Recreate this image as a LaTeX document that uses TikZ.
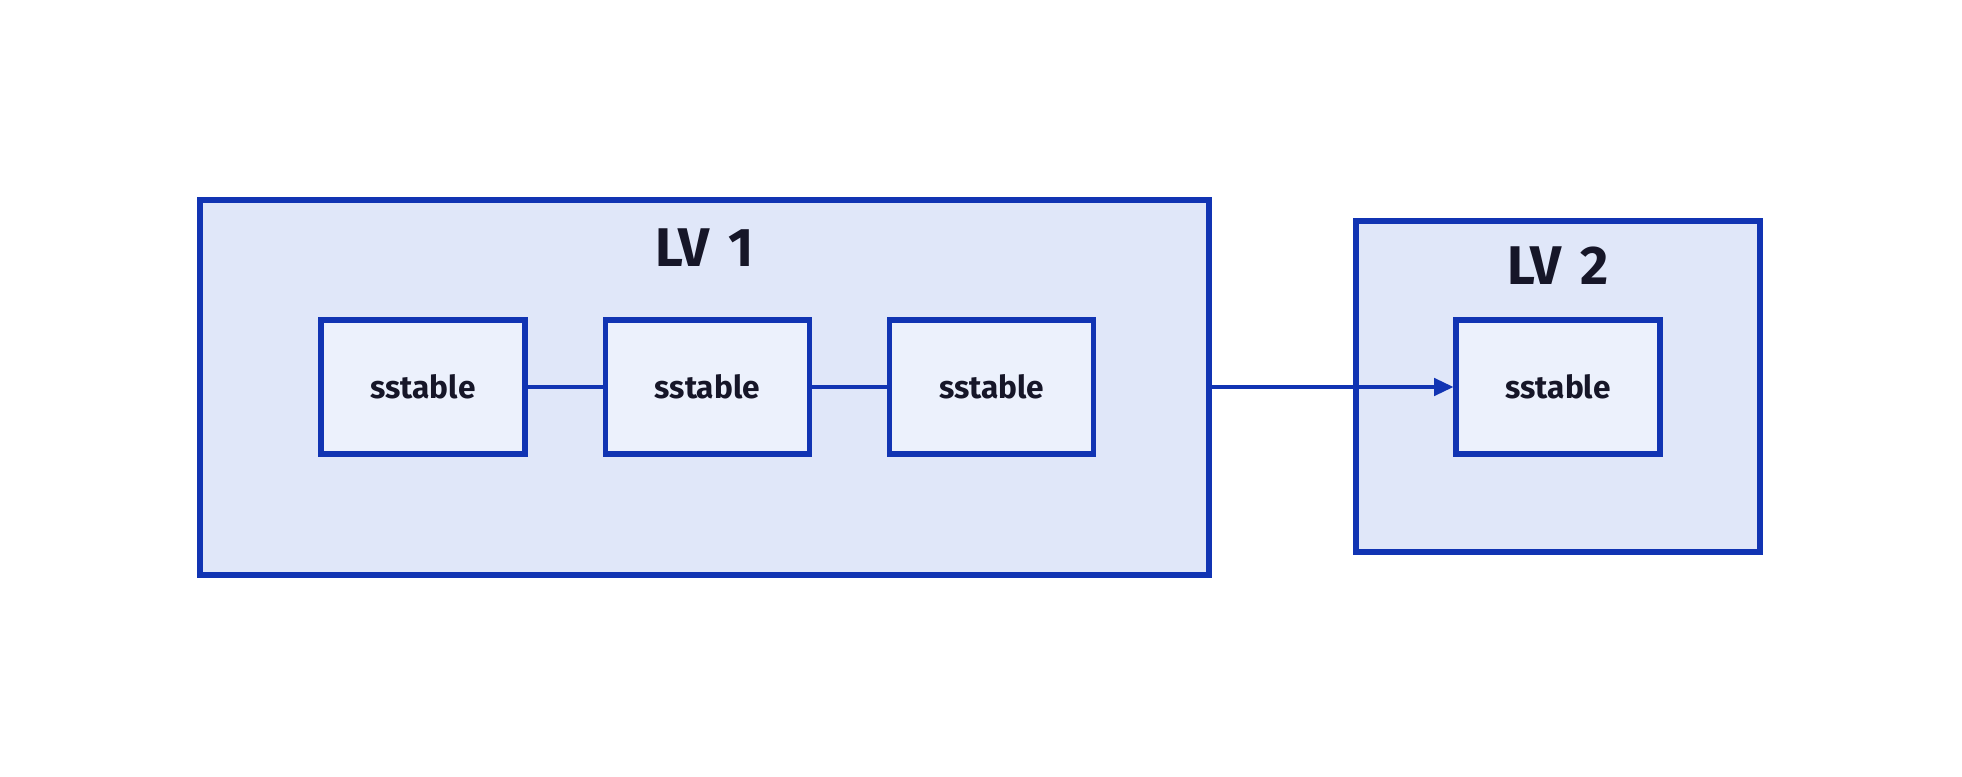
\documentclass[tikz,border=0pt]{standalone}
\usepackage{fontspec}
\setmainfont{Fira Sans}
\usepackage{xcolor}
\usetikzlibrary{arrows.meta, positioning, shapes, calc}
\definecolor{lvblue}{RGB}{17,52,179}
\definecolor{levelfill}{RGB}{224,231,249}
\definecolor{tablefill}{RGB}{236,241,252}
\definecolor{ink}{RGB}{22,22,40}

\begin{document}
\begin{tikzpicture}[node distance=1.5cm]
\useasboundingbox (0,0) rectangle (39.24,15.52);

% Level 1
\node[draw=lvblue, line width=3.2pt, fill=levelfill, minimum width=20.18cm, minimum height=7.5cm] (lv1) at (14.09,7.77) {};
\node[text=ink, font=\fontsize{31}{36}\bfseries, below=0.5cm of lv1.north] (lv1label) {LV\hspace{0.35em}1};

% Level 2
\node[draw=lvblue, line width=3.2pt, fill=levelfill, minimum width=8.08cm, minimum height=6.62cm] (lv2) at (31.16,7.79) {};
\node[text=ink, font=\fontsize{31}{36}\bfseries, below=0.45cm of lv2.north] (lv2label) {LV\hspace{0.35em}2};

% Tables in level 1
\node[draw=lvblue, line width=3pt, fill=tablefill, text=ink, font=\fontsize{18}{22}\bfseries, minimum width=4.08cm, minimum height=2.68cm] (s1) at (8.46,7.78) {sstable};
\node[draw=lvblue, line width=3pt, fill=tablefill, text=ink, font=\fontsize{18}{22}\bfseries, minimum width=4.08cm, minimum height=2.68cm, right=of s1] (s2) {sstable};
\node[draw=lvblue, line width=3pt, fill=tablefill, text=ink, font=\fontsize{18}{22}\bfseries, minimum width=4.08cm, minimum height=2.68cm, right=of s2] (s3) {sstable};

% Table in level 2
\node[draw=lvblue, line width=3pt, fill=tablefill, text=ink, font=\fontsize{18}{22}\bfseries, minimum width=4.08cm, minimum height=2.68cm] (s4) at (31.16,7.78) {sstable};

% Links
\draw[draw=lvblue, line width=1.8pt] (s1) -- (s2);
\draw[draw=lvblue, line width=1.8pt] (s2) -- (s3);
\draw[-{Triangle[length=11pt, width=10pt]}, draw=lvblue, fill=lvblue, line width=1.8pt] (lv1.east |- s4.west) -- (s4.west);

\end{tikzpicture}
\end{document}
